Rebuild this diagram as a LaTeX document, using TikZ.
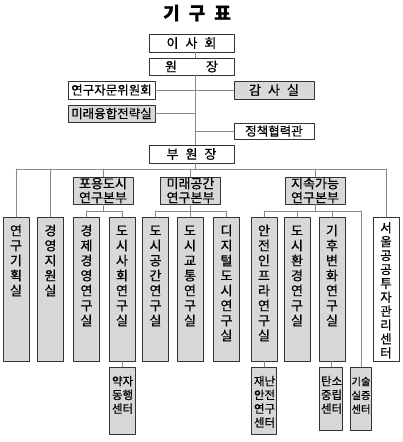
\documentclass[tikz,border=0pt]{standalone}
\usepackage{fontspec}
\setmainfont{Noto Sans CJK KR}[FakeBold=0.6]
\usetikzlibrary{positioning}
\definecolor{boxgray}{HTML}{D8D8D8}
\definecolor{linegray}{HTML}{8A8A8A}
\newcommand{\wsp}{\hspace{7pt}}
\tikzset{
  topbox/.style={draw=black!80,line width=0.8pt,fill=white,minimum width=85pt,minimum height=18pt,inner sep=0pt,font=\fontsize{13}{15}\selectfont},
  sidebox/.style={draw=black!80,line width=0.8pt,fill=white,minimum width=87pt,minimum height=18pt,inner sep=0pt,font=\fontsize{12.5}{15}\selectfont},
  hubbox/.style={draw=black!80,line width=0.8pt,fill=boxgray,minimum width=60pt,minimum height=27pt,inner sep=0pt,align=center,font=\fontsize{13}{14}\selectfont},
  colbox/.style={draw=black!80,line width=0.8pt,fill=boxgray,anchor=north,text width=14pt,inner xsep=6pt,inner ysep=0pt,align=center,text height=18pt,text depth=126pt,font=\fontsize{13}{15}\selectfont},
  subbox/.style={draw=black!80,line width=0.8pt,fill=boxgray,anchor=north,text width=20pt,inner xsep=3pt,inner ysep=0pt,align=center,text height=18pt,text depth=49pt,font=\fontsize{11.5}{13.8}\selectfont},
  link/.style={draw=linegray,line width=0.8pt},
  every picture/.style={line cap=round,line join=round}
}

\begin{document}
\begin{tikzpicture}[x=1pt,y=-1pt]
  \useasboundingbox (0,0) rectangle (402,442);
  \node[font=\fontsize{18}{18}\selectfont\bfseries] (title) at (197,13) {기\hspace{9pt}구\hspace{9pt}표};
  % top of the chart
  \node[topbox] (board) at (191.5,43) {이\wsp 사\wsp 회};
  \node[topbox,minimum height=17pt] (pres) at (191.5,66.5) {원\hspace{29pt}장};
  \node[sidebox] (advis) at (111.5,90) {연구자문위원회};
  \node[sidebox,minimum width=80pt,fill=boxgray,font=\fontsize{13}{15}\selectfont] (audit) at (274,90) {감\wsp 사\wsp 실};
  \node[sidebox,fill=boxgray,minimum height=17pt] (strat) at (111.5,113.5) {미래융합전략실};
  \node[sidebox,minimum width=80pt,minimum height=16pt] (coop) at (274,131) {정책협력관};
  \node[topbox] (vice) at (191.5,154) {부\wsp 원\wsp 장};
  \coordinate (spine) at (195,0);
  \coordinate (bus) at (0,169);
  \coordinate (sub) at (0,211);
  % research divisions
  \node[hubbox] (h1) at (103,190.5) {포용도시\\연구본부};
  \node[hubbox] (h2) at (190.5,190.5) {미래공간\\연구본부};
  \node[hubbox] (h3) at (315,190.5) {지속가능\\연구본부};
  % offices
  \node[colbox] (c1) at (16,217) {연\\구\\기\\획\\실};
  \node[colbox] (c2) at (50.5,217) {경\\영\\지\\원\\실};
  \node[colbox] (c3) at (86.5,217) {경\\제\\경\\영\\연\\구\\실};
  \node[colbox] (c4) at (122,217) {도\\시\\사\\회\\연\\구\\실};
  \node[colbox] (c5) at (155.5,217) {도\\시\\공\\간\\연\\구\\실};
  \node[colbox] (c6) at (190,217) {도\\시\\교\\통\\연\\구\\실};
  \node[colbox] (c7) at (226.5,217) {디\\지\\털\\도\\시\\연\\구\\실};
  \node[colbox] (c8) at (264,217) {안\\전\\인\\프\\라\\연\\구\\실};
  \node[colbox] (c9) at (297,217) {도\\시\\환\\경\\연\\구\\실};
  \node[colbox] (c10) at (332,217) {기\\후\\변\\화\\연\\구\\실};
  \node[colbox,fill=white,text height=15pt,text depth=129pt,font=\fontsize{12.5}{13.9}\selectfont] (c11) at (386,217) {서\\울\\공\\공\\투\\자\\관\\리\\센\\터};
  % centres
  \node[subbox] (yak) at (122,367) {약자\\동행\\센터};
  \node[subbox,inner xsep=2.5pt] (dis) at (264,367) {재난\\안전\\연구\\센터};
  \node[subbox,inner xsep=1.5pt,text depth=45pt] (carb) at (331,367) {탄소\\중립\\센터};
  \node[subbox,text width=21pt,inner xsep=0pt,text depth=45pt,font=\fontsize{10.3}{13.8}\selectfont] (tech) at (361,367) {기술\\실증\\센터};
  % connectors
  \draw[link] (board.south -| spine) -- (pres.north -| spine);
  \draw[link] (pres.south -| spine) -- (vice.north -| spine);
  \draw[link] (advis.east) -- (audit.west);
  \draw[link] (strat.east) -- (strat.east -| spine);
  \draw[link] (coop.west -| spine) -- (coop.west);
  \draw[link] (vice.south -| spine) -- (spine |- bus);
  \draw[link] (c1.north |- bus) -- (c11.north |- bus);
  \foreach \n in {c1,c2,h1,h2,h3,c11}
    \draw[link] (\n.north |- bus) -- (\n.north);
  \draw[link] (c3.north |- sub) -- (c4.north |- sub);
  \draw[link] (c5.north |- sub) -- (c7.north |- sub);
  \draw[link] (c8.north |- sub) -- (tech.north |- sub);
  \draw[link] (h1.south) -- (h1.south |- sub);
  \draw[link] (h2.south) -- (h2.south |- sub);
  \draw[link] (h3.south) -- (h3.south |- sub);
  \foreach \n in {c3,c4,c5,c6,c7,c8,c9,c10,tech}
    \draw[link] (\n.north |- sub) -- (\n.north);
  \draw[link] (c4.south) -- (yak.north);
  \draw[link] (c8.south) -- (dis.north);
  \draw[link] (c10.south -| carb.north) -- (carb.north);
\end{tikzpicture}
\end{document}
